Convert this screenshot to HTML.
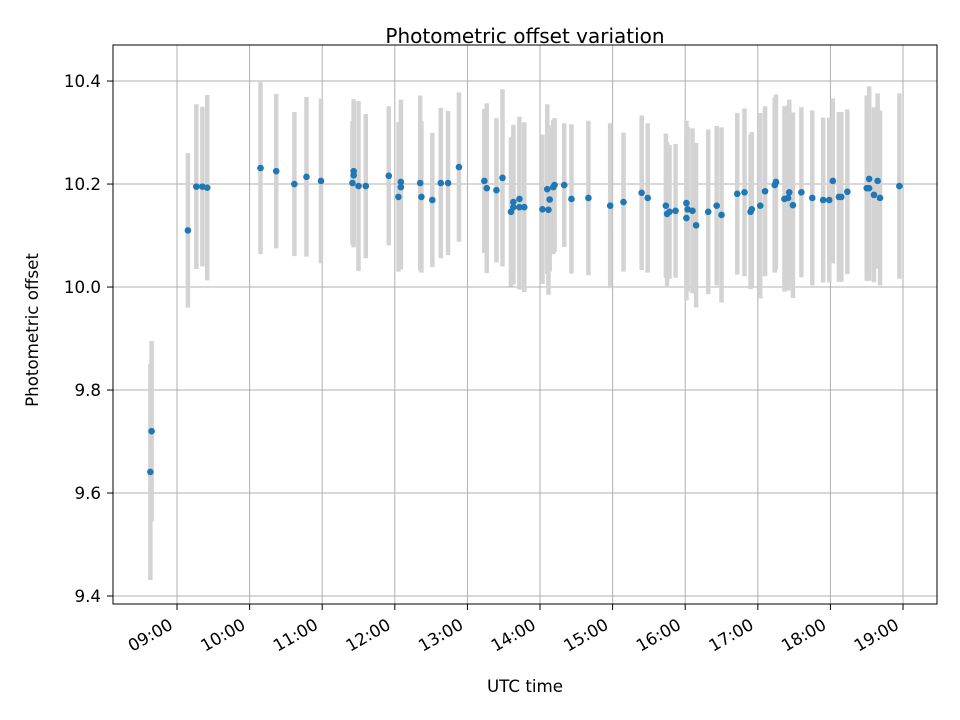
<!DOCTYPE html>
<html><head><meta charset="utf-8"><style>
html,body{margin:0;padding:0;background:#fff;}
svg{display:block;font-family:"DejaVu Sans","Liberation Sans",sans-serif;}
</style></head><body>
<svg id="chart" width="960" height="720" viewBox="0 0 960 720">
<rect width="960" height="720" fill="#fff"/>
<text x="525" y="43" style="font-size:20px" text-anchor="middle">Photometric offset variation</text>
<g id="grid"></g><g id="bars"></g><g id="pts"></g><g id="axes"></g>
<text x="525" y="692" style="font-size:16.7px" text-anchor="middle">UTC time</text>
<text x="38" y="330" style="font-size:16.7px" text-anchor="middle" transform="rotate(-90 38 330)">Photometric offset</text>
</svg>
<script>
const times=["08:38","08:39","09:09","09:16","09:21","09:25","10:09","10:22","10:37","10:47","10:59","11:25","11:26","11:26","11:30","11:36","11:55","12:03","12:05","12:05","12:21","12:22","12:31","12:38","12:44","12:53","13:14","13:16","13:24","13:29","13:36","13:38","13:38","13:43","13:43","13:47","14:02","14:06","14:07","14:08","14:11","14:12","14:20","14:26","14:40","14:58","15:09","15:24","15:29","15:44","15:45","15:47","15:52","16:01","16:01","16:02","16:06","16:09","16:19","16:26","16:30","16:43","16:49","16:54","16:55","17:02","17:06","17:14","17:15","17:22","17:25","17:26","17:29","17:36","17:45","17:54","17:59","18:02","18:07","18:09","18:14","18:30","18:32","18:32","18:36","18:39","18:41","18:57"];
const values=[9.641,9.72,10.11,10.195,10.195,10.193,10.231,10.225,10.2,10.214,10.206,10.202,10.225,10.217,10.196,10.196,10.216,10.175,10.204,10.194,10.202,10.175,10.169,10.202,10.202,10.233,10.206,10.192,10.188,10.212,10.146,10.155,10.165,10.155,10.171,10.155,10.151,10.19,10.15,10.17,10.194,10.198,10.198,10.171,10.173,10.158,10.165,10.183,10.173,10.158,10.142,10.146,10.148,10.134,10.163,10.151,10.148,10.12,10.146,10.158,10.14,10.181,10.184,10.146,10.151,10.158,10.186,10.198,10.204,10.171,10.173,10.184,10.159,10.184,10.173,10.169,10.169,10.206,10.175,10.175,10.185,10.192,10.21,10.192,10.179,10.206,10.173,10.196];
const errors=[0.21,0.175,0.15,0.16,0.155,0.18,0.167,0.15,0.14,0.155,0.16,0.12,0.14,0.14,0.165,0.14,0.135,0.145,0.16,0.16,0.17,0.147,0.13,0.146,0.14,0.145,0.14,0.165,0.14,0.172,0.145,0.15,0.15,0.16,0.16,0.165,0.145,0.165,0.165,0.14,0.13,0.13,0.12,0.145,0.15,0.16,0.135,0.15,0.145,0.14,0.14,0.13,0.13,0.16,0.16,0.16,0.16,0.16,0.16,0.155,0.17,0.157,0.163,0.15,0.15,0.18,0.165,0.17,0.17,0.18,0.18,0.18,0.18,0.165,0.17,0.16,0.16,0.16,0.165,0.165,0.16,0.18,0.18,0.18,0.17,0.17,0.17,0.18];
const xTicks=["09:00","10:00","11:00","12:00","13:00","14:00","15:00","16:00","17:00","18:00","19:00"];
const yTicks=["9.4","9.6","9.8","10.0","10.2","10.4"];
const NS="http://www.w3.org/2000/svg";
const L=113,R=937,T=45,B=604;
const hrs=s=>{const p=s.split(":");return +p[0]+ +p[1]/60;};
const xMin=8.1185,xMax=19.468,yMin=9.3845,yMax=10.47;
const X=h=>L+(h-xMin)/(xMax-xMin)*(R-L);
const Y=v=>B-(v-yMin)/(yMax-yMin)*(B-T);
function mk(tag,at,parent){const e=document.createElementNS(NS,tag);for(const k in at)e.setAttribute(k,at[k]);document.getElementById(parent).appendChild(e);return e;}
yTicks.forEach(t=>{const y=Y(+t);
const g=mk("line",{x1:L,x2:R,y1:y,y2:y,stroke:"#b0b0b0","stroke-width":1},"grid");


mk("line",{x1:L-6,x2:L,y1:y,y2:y,stroke:"#000"},"axes");
const tx=mk("text",{x:L-12,y:y+6,style:"font-size:16.7px","text-anchor":"end"},"axes");tx.textContent=t;


});
xTicks.forEach(t=>{const x=X(hrs(t));
const g=mk("line",{x1:x,x2:x,y1:T,y2:B,stroke:"#b0b0b0","stroke-width":1},"grid");


mk("line",{x1:x,x2:x,y1:B,y2:B+6,stroke:"#000"},"axes");
const ax=x-3,ay=B+24;
const tx=mk("text",{x:ax,y:ay,style:"font-size:16.7px","text-anchor":"end",transform:`rotate(-30 ${ax} ${ay})`},"axes");tx.textContent=t;


});
times.forEach((t,i)=>{const x=X(hrs(t));
const b=mk("line",{x1:x,x2:x,y1:Y(values[i]+errors[i]),y2:Y(values[i]-errors[i]),stroke:"#d3d3d3","stroke-width":4.5},"bars");


const c=mk("circle",{cx:x,cy:Y(values[i]),r:3.3,fill:"#1f77b4"},"pts");


});
const f=mk("rect",{x:L,y:T,width:R-L,height:B-T,fill:"none",stroke:"#000","stroke-width":1},"axes");


</script>
</body></html>
